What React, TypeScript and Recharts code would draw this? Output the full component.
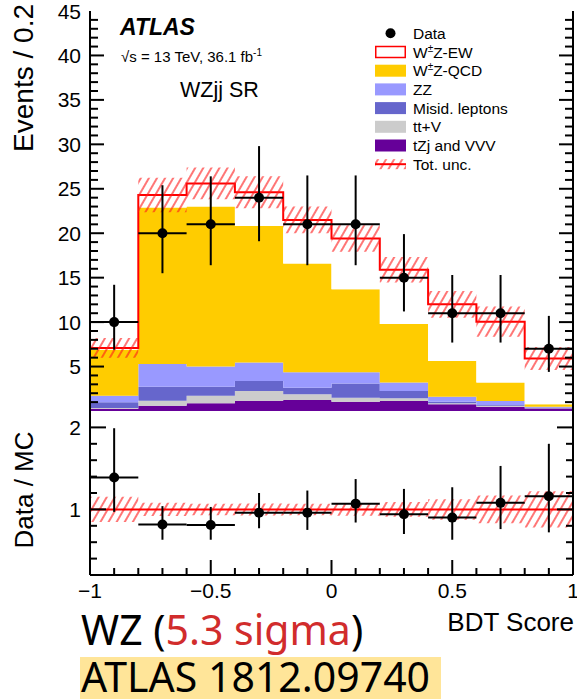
import React from 'react';
import { ComposedChart, Area, Scatter, XAxis, YAxis, ErrorBar, ReferenceLine } from 'recharts';

// ---- data ----
const binEdges = [-1, -0.8, -0.6, -0.4, -0.2, 0, 0.2, 0.4, 0.6, 0.8, 1];
const binCenters = [-0.9, -0.7, -0.5, -0.3, -0.1, 0.1, 0.3, 0.5, 0.7, 0.9];

const tZjVVV = [0.25, 0.6, 0.86, 1.16, 1.24, 1.05, 1.12, 0.75, 0.48, 0.28];
const ttV = [0.1, 0.56, 0.86, 1.09, 0.64, 0.45, 0.31, 0.11, 0.12, 0.04];
const misidLeptons = [0.63, 1.58, 1.02, 1.12, 0.74, 1.6, 0.82, 0.19, 0.07, 0.06];
const zz = [0.74, 2.56, 2.26, 2.1, 1.73, 1.25, 0.97, 0.56, 0.45, 0.1];
const wzQCD = [5.18, 17.6, 18.0, 15.33, 12.25, 9.35, 6.58, 4.01, 2.1, 0.27];
const wzEW = [0.2, 1.4, 2.6, 3.8, 4.9, 5.7, 6.1, 6.38, 6.83, 5.15];
const relUnc = [0.155, 0.08, 0.07, 0.073, 0.07, 0.077, 0.09, 0.125, 0.17, 0.22];

const dataCounts = [10, 20, 21, 24, 21, 21, 15, 11, 11, 7];
const dataErrUp = [4.2, 5.4, 5.4, 5.8, 5.5, 5.5, 4.9, 4.3, 4.3, 3.7];
const dataErrDown = [3.1, 4.5, 4.6, 4.9, 4.6, 4.6, 3.8, 3.3, 3.3, 2.6];

const ratioValues = [1.39, 0.815, 0.81, 0.96, 0.96, 1.07, 0.94, 0.9, 1.08, 1.16];
const ratioErrUp = [0.6, 0.225, 0.22, 0.24, 0.27, 0.3, 0.31, 0.37, 0.45, 0.64];
const ratioErrDown = [0.42, 0.185, 0.18, 0.19, 0.21, 0.23, 0.24, 0.27, 0.32, 0.44];

// ticks
const mainYMajor = [0, 5, 10, 15, 20, 25, 30, 35, 40, 45];
const mainYLabels = [5, 10, 15, 20, 25, 30, 35, 40, 45];
const mainYTicks = Array.from({ length: 46 }, (_, i) => i);
const xMajor = [-1, -0.5, 0, 0.5, 1];
const xTicks = Array.from({ length: 21 }, (_, i) => Math.round((-1 + i * 0.1) * 10) / 10);
const ratioYMajor = [1, 2];
const ratioYLabels = [1, 2];
const ratioYTicks = Array.from({ length: 11 }, (_, i) => Math.round((0.2 + i * 0.2) * 10) / 10);

// ---- tables built from the arrays ----
const histRows = binEdges.map((x, i) => {
  const j = Math.min(i, binCenters.length - 1);
  const total = tZjVVV[j] + ttV[j] + misidLeptons[j] + zz[j] + wzQCD[j] + wzEW[j];
  return {
    x,
    tzj: tZjVVV[j],
    ttv: ttV[j],
    misid: misidLeptons[j],
    zz: zz[j],
    qcd: wzQCD[j],
    ew: wzEW[j],
    band: [total * (1 - relUnc[j]), total * (1 + relUnc[j])],
    rband: [1 - relUnc[j], 1 + relUnc[j]],
  };
});

const dataPoints = binCenters.map((x, i) => ({
  x,
  y: dataCounts[i],
  ex: 0.1,
  ey: [dataErrDown[i], dataErrUp[i]],
}));

const ratioPoints = binCenters.map((x, i) => ({
  x,
  y: ratioValues[i],
  ex: 0.1,
  ey: [ratioErrDown[i], ratioErrUp[i]],
}));

const HEL = "'Liberation Sans', Arial, Helvetica, sans-serif";

const fmtNum = (v: number) => (v < 0 ? '\u2212' + String(Math.abs(v)) : String(v));

type Side = 'left' | 'right' | 'top' | 'bottom';
function makeTick(side: Side, major: number[], majorLen: number, minorLen: number, edges: [number, number], labels?: number[]) {
  return (props: any) => {
    const { x, y, payload } = props;
    const v = payload.value as number;
    const near = (a: number, b: number) => Math.abs(a - b) < 1e-6;
    const isMajor = major.some((m) => near(m, v));
    const atEdge = near(v, edges[0]) || near(v, edges[1]);
    const len = isMajor ? majorLen : minorLen;
    let line: any = null;
    if (!atEdge) {
      if (side === 'left') line = <line x1={x} y1={y} x2={x + len} y2={y} stroke="#000" strokeWidth={2} />;
      if (side === 'right') line = <line x1={x} y1={y} x2={x - len} y2={y} stroke="#000" strokeWidth={2} />;
      if (side === 'top') line = <line x1={x} y1={y} x2={x} y2={y + len} stroke="#000" strokeWidth={2} />;
      if (side === 'bottom') line = <line x1={x} y1={y} x2={x} y2={y - len} stroke="#000" strokeWidth={2} />;
    }
    let label: any = null;
    if (labels && labels.some((l) => near(l, v))) {
      if (side === 'left')
        label = (
          <text x={x - 9} y={y} textAnchor="end" dominantBaseline="central" fontFamily={HEL} fontSize={21} fill="#000">
            {fmtNum(v)}
          </text>
        );
      if (side === 'bottom')
        label = (
          <text x={x} y={y + 15} textAnchor="middle" dominantBaseline="central" fontFamily={HEL} fontSize={21} fill="#000">
            {fmtNum(v)}
          </text>
        );
    }
    return (
      <g>
        {line}
        {label}
      </g>
    );
  };
}

const frame = { stroke: '#000', strokeWidth: 2 };

const Hatch = ({ id }: { id: string }) => (
  <defs>
    <pattern id={id} patternUnits="userSpaceOnUse" width={7} height={7} patternTransform="rotate(30)">
      <line x1={1} y1={0} x2={1} y2={7} stroke="#ff1a1a" strokeWidth={1.2} />
    </pattern>
  </defs>
);

const dot = (p: any) => <circle cx={p.cx} cy={p.cy} r={5} fill="#000" />;

function MainPanel() {
  return (
    <ComposedChart width={577} height={412} data={histRows} margin={{ top: 11, right: 0, bottom: 1, left: 0 }}>
      <Hatch id="hatchMain" />
      <XAxis
        dataKey="x"
        type="number"
        domain={[-1, 1]}
        allowDataOverflow
        ticks={xTicks}
        interval={0}
        height={0}
        tickSize={0}
        tickMargin={0}
        axisLine={frame}
        tickLine={false}
        tick={makeTick('bottom', xMajor, 10, 5, [-1, 1])}
      />
      <XAxis
        xAxisId="top"
        orientation="top"
        dataKey="x"
        type="number"
        domain={[-1, 1]}
        allowDataOverflow
        ticks={xTicks}
        interval={0}
        height={0}
        tickSize={0}
        tickMargin={0}
        axisLine={frame}
        tickLine={false}
        tick={makeTick('top', xMajor, 10, 5, [-1, 1])}
      />
      <YAxis
        type="number"
        domain={[0, 45]}
        allowDataOverflow
        ticks={mainYTicks}
        interval={0}
        width={90}
        tickSize={0}
        tickMargin={0}
        axisLine={frame}
        tickLine={false}
        tick={makeTick('left', mainYMajor, 14, 8, [0, 45], mainYLabels)}
      />
      <YAxis
        yAxisId="right"
        orientation="right"
        type="number"
        domain={[0, 45]}
        allowDataOverflow
        ticks={mainYTicks}
        interval={0}
        width={4}
        tickSize={0}
        tickMargin={0}
        axisLine={frame}
        tickLine={false}
        tick={makeTick('right', mainYMajor, 14, 8, [0, 45])}
      />
      <Area type="stepAfter" dataKey="tzj" stackId="s" fill="#660099" stroke="none" fillOpacity={1} isAnimationActive={false} />
      <Area type="stepAfter" dataKey="ttv" stackId="s" fill="#cccccc" stroke="none" fillOpacity={1} isAnimationActive={false} />
      <Area type="stepAfter" dataKey="misid" stackId="s" fill="#6666cc" stroke="none" fillOpacity={1} isAnimationActive={false} />
      <Area type="stepAfter" dataKey="zz" stackId="s" fill="#9999ff" stroke="none" fillOpacity={1} isAnimationActive={false} />
      <Area type="stepAfter" dataKey="qcd" stackId="s" fill="#ffcc00" stroke="none" fillOpacity={1} isAnimationActive={false} />
      <Area type="stepAfter" dataKey="ew" stackId="s" fill="#ffffff" stroke="#ff0000" strokeWidth={2} fillOpacity={1} isAnimationActive={false} />
      <Area type="stepAfter" dataKey="band" fill="url(#hatchMain)" stroke="none" fillOpacity={1} isAnimationActive={false} />
      <Scatter data={dataPoints} dataKey="y" shape={dot} isAnimationActive={false}>
        <ErrorBar dataKey="ey" direction="y" width={0} stroke="#000" strokeWidth={2} />
        <ErrorBar dataKey="ex" direction="x" width={0} stroke="#000" strokeWidth={2} />
      </Scatter>
    </ComposedChart>
  );
}

function RatioPanel() {
  return (
    <ComposedChart width={577} height={230} data={histRows} margin={{ top: 11, right: 0, bottom: 0, left: 0 }}>
      <Hatch id="hatchRatio" />
      <XAxis
        dataKey="x"
        type="number"
        domain={[-1, 1]}
        allowDataOverflow
        ticks={xTicks}
        interval={0}
        height={55}
        tickSize={0}
        tickMargin={0}
        axisLine={frame}
        tickLine={false}
        tick={makeTick('bottom', xMajor, 15, 7, [-1, 1], xMajor)}
      />
      <XAxis
        xAxisId="top"
        orientation="top"
        dataKey="x"
        type="number"
        domain={[-1, 1]}
        allowDataOverflow
        ticks={xTicks}
        interval={0}
        height={0}
        tickSize={0}
        tickMargin={0}
        axisLine={frame}
        tickLine={false}
        tick={makeTick('top', xMajor, 10, 5, [-1, 1])}
      />
      <YAxis
        type="number"
        domain={[0.2, 2.2]}
        allowDataOverflow
        ticks={ratioYTicks}
        interval={0}
        width={90}
        tickSize={0}
        tickMargin={0}
        axisLine={frame}
        tickLine={false}
        tick={makeTick('left', ratioYMajor, 16, 7, [0.2, 2.2], ratioYLabels)}
      />
      <YAxis
        yAxisId="right"
        orientation="right"
        type="number"
        domain={[0.2, 2.2]}
        allowDataOverflow
        ticks={ratioYTicks}
        interval={0}
        width={4}
        tickSize={0}
        tickMargin={0}
        axisLine={frame}
        tickLine={false}
        tick={makeTick('right', ratioYMajor, 16, 7, [0.2, 2.2])}
      />
      <Area type="stepAfter" dataKey="rband" fill="url(#hatchRatio)" stroke="none" fillOpacity={1} isAnimationActive={false} />
      <ReferenceLine y={1} stroke="#ff0000" strokeWidth={2} />
      <Scatter data={ratioPoints} dataKey="y" shape={dot} isAnimationActive={false}>
        <ErrorBar dataKey="ey" direction="y" width={0} stroke="#000" strokeWidth={2} />
        <ErrorBar dataKey="ex" direction="x" width={0} stroke="#000" strokeWidth={2} />
      </Scatter>
    </ComposedChart>
  );
}

const legendRows = [
  { label: 'Data', kind: 'dot', color: '#000' },
  { label: 'EW', kind: 'ew', color: '#ff0000' },
  { label: 'QCD', kind: 'box', color: '#ffcc00' },
  { label: 'ZZ', kind: 'box', color: '#9999ff' },
  { label: 'Misid. leptons', kind: 'box', color: '#6666cc' },
  { label: 'tt+V', kind: 'box', color: '#cccccc' },
  { label: 'tZj and VVV', kind: 'box', color: '#660099' },
  { label: 'Tot. unc.', kind: 'unc', color: '#ff0000' },
];

function Overlay() {
  const lx = 375;
  const tx = 413;
  const y0 = 33.3;
  const dy = 18.7;
  return (
    <svg width={577} height={699} style={{ position: 'absolute', left: 0, top: 0, pointerEvents: 'none' }}>
      <Hatch id="hatchLegend" />
      {/* axis titles */}
      <text transform="translate(33,4) rotate(-90)" textAnchor="end" fontFamily={HEL} fontSize={28} fill="#000">
        Events / 0.2
      </text>
      <text transform="translate(33,490) rotate(-90)" textAnchor="middle" fontFamily={HEL} fontSize={26} fill="#000">
        Data / MC
      </text>
      <text x={574} y={631} textAnchor="end" fontFamily={HEL} fontSize={26} fill="#000">
        BDT Score
      </text>
      {/* ATLAS label */}
      <text x={120} y={35} fontFamily={HEL} fontSize={23} fontWeight="bold" fontStyle="italic" fill="#000">
        ATLAS
      </text>
      <text x={121} y={62} fontFamily={HEL} fontSize={15} fill="#000">
        {'\u221As = 13 TeV, 36.1 fb'}
        <tspan fontSize={10} dy={-6}>
          -1
        </tspan>
      </text>
      <text x={180} y={97} fontFamily={HEL} fontSize={21.5} fill="#000">
        WZjj SR
      </text>
      {/* legend */}
      {legendRows.map((r, i) => {
        const cy = y0 + i * dy;
        let sw: any = null;
        if (r.kind === 'dot') sw = <circle cx={lx + 15.5} cy={cy} r={5} fill="#000" />;
        if (r.kind === 'box') sw = <rect x={lx} y={cy - 6} width={31} height={12} fill={r.color} />;
        if (r.kind === 'ew') sw = <rect x={lx + 0.75} y={cy - 5.5} width={29.5} height={11} fill="#fff" stroke="#ff0000" strokeWidth={1.5} />;
        if (r.kind === 'unc')
          sw = (
            <g>
              <rect x={lx} y={cy - 5} width={31} height={10} fill="url(#hatchLegend)" />
              <line x1={lx} y1={cy} x2={lx + 31} y2={cy} stroke="#ff0000" strokeWidth={2} />
            </g>
          );
        let text: any = r.label;
        if (r.kind === 'ew' || (r.kind === 'box' && r.label === 'QCD')) {
          text = (
            <>
              W<tspan fontSize={10} dy={-6}>{'\u00B1'}</tspan>
              <tspan dy={6}>{r.kind === 'ew' ? 'Z-EW' : 'Z-QCD'}</tspan>
            </>
          );
        }
        return (
          <g key={r.label}>
            {sw}
            <text x={tx} y={cy + 5.5} fontFamily={HEL} fontSize={15.5} fill="#000">
              {text}
            </text>
          </g>
        );
      })}
      {/* bottom annotations */}
      <text x={81} y={645} fontFamily="'Noto Sans', sans-serif" fontSize={41} fill="#000">
        WZ (<tspan fill="#d12c2c">5.3 sigma</tspan>)
      </text>
      <rect x={80} y={657} width={361} height={42} fill="#ffe599" />
      <text x={81} y={692} fontFamily="'Noto Sans', sans-serif" fontSize={41} fill="#000">
        ATLAS 1812.09740
      </text>
    </svg>
  );
}

export default function App() {
  return (
    <div style={{ position: 'absolute', left: 0, top: 0, width: 577, height: 699, background: '#fff', overflow: 'hidden' }}>
      <div style={{ position: 'absolute', left: 0, top: 0 }}>
        <MainPanel />
      </div>
      <div style={{ position: 'absolute', left: 0, top: 400 }}>
        <RatioPanel />
      </div>
      <Overlay />
    </div>
  );
}
